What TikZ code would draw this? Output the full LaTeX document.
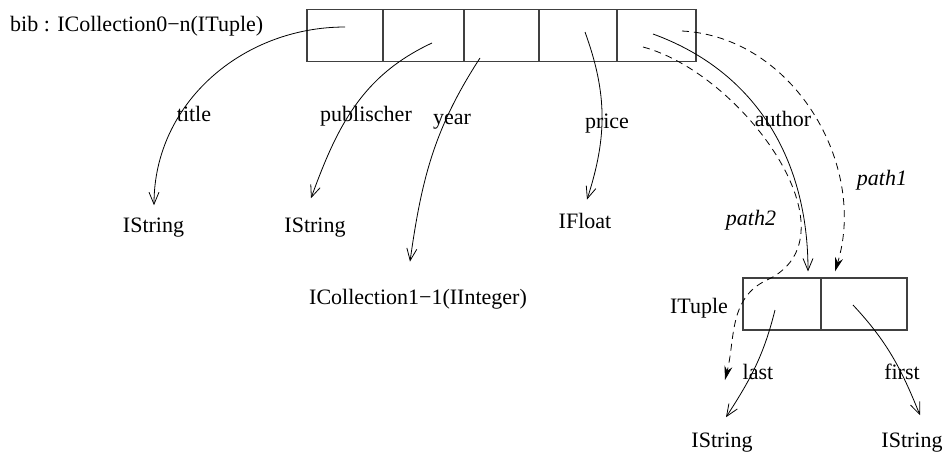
\documentclass[tikz,border=0pt]{standalone}
\usepackage{fontspec}
\setmainfont{Liberation Serif}
\usetikzlibrary{arrows.meta}
\begin{document}
\begin{tikzpicture}[x=1pt, y=1pt, every node/.style={font=\fontsize{22}{26}\selectfont, inner sep=2pt},
  rec/.style={draw=black!75, line width=1.1pt, minimum width=#1, minimum height=52pt},
  fld/.style={-{Straight Barb[length=12pt,width=10pt]}, line width=0.8pt},
  pth/.style={-{Stealth[length=14pt,width=8pt]}, line width=0.8pt, dash pattern=on 7pt off 5pt}]
  \useasboundingbox (0,0) rectangle (943,-453);
  \node[rec=389pt] (bibrec) at (501.5,-35.5) {};
  \foreach \x in {383,464,539,617} \draw[draw=black!75, line width=1.1pt] (\x,-9.5) -- (\x,-61.5);
  \node[anchor=base west] (bib) at (8,-31) {bib : ICollection0−n(ITuple)};
  \node[rec=164pt] (tup) at (825,-304) {};
  \draw[draw=black!75, line width=1.1pt] (821,-278) -- (821,-330);
  \node[anchor=base] (tuplbl) at (699,-313) {ITuple};
  \coordinate (ctitle) at (345,-27);
  \coordinate (cpub) at (432,-43);
  \coordinate (cyear) at (480,-58);
  \coordinate (cprice) at (585,-32);
  \coordinate (cauth) at (653,-34);
  \coordinate (cpa) at (682,-31);
  \coordinate (cpb) at (643,-47);
  \coordinate (pbmid) at (767,-280);
  \coordinate (pbend) at (725,-380);
  \coordinate (clast) at (775,-310);
  \coordinate (cfirst) at (853,-305);
  \node[anchor=base] (str1) at (153.5,-232) {IString};
  \node[anchor=base] (str2) at (315,-232) {IString};
  \node[anchor=base] (icoll) at (418,-304) {ICollection1−1(IInteger)};
  \node[anchor=base] (ifloat) at (585,-228) {IFloat};
  \node[anchor=base] (str3) at (722,-447) {IString};
  \node[anchor=base] (str4) at (912,-447) {IString};
  \draw[fld] (ctitle) to[out=180, in=90] ([xshift=0.5pt, yshift=10pt]str1.north);
  \draw[fld] (cpub) to[out=205, in=70] ([xshift=-4pt, yshift=17pt]str2.north);
  \draw[fld] (cyear) to[out=237, in=82] ([xshift=-8pt, yshift=25pt]icoll.north);
  \draw[fld] (cprice) to[out=-70, in=72] ([xshift=2pt, yshift=11pt]ifloat.north);
  \draw[fld] (cauth) to[out=-20, in=90] ([xshift=-17pt, yshift=6pt]tup.north);
  \draw[pth] (cpa) to[out=-3, in=73] ([xshift=10pt, yshift=6pt]tup.north);
  \draw[pth] (cpb) to[out=-15, in=25] (pbmid) to[out=205, in=76] (pbend);
  \draw[fld] (clast) to[out=256, in=57] ([xshift=4pt, yshift=13pt]str3.north);
  \draw[fld] (cfirst) to[out=-47, in=112] ([xshift=8pt, yshift=15pt]str4.north);
  \node[anchor=base] (ltitle) at (194,-121) {title};
  \node[anchor=base] (lpub) at (366,-121) {publischer};
  \node[anchor=base] (lyear) at (452,-124) {year};
  \node[anchor=base] (lprice) at (607,-128) {price};
  \node[anchor=base] (lauth) at (783,-126) {author};
  \node[anchor=base, font=\fontsize{22}{26}\selectfont\itshape] (lpa) at (882,-185) {path1};
  \node[anchor=base, font=\fontsize{22}{26}\selectfont\itshape] (lpb) at (751,-225) {path2};
  \node[anchor=base] (llast) at (758,-379) {last};
  \node[anchor=base] (lfirst) at (902,-379) {first};
\end{tikzpicture}
\end{document}
